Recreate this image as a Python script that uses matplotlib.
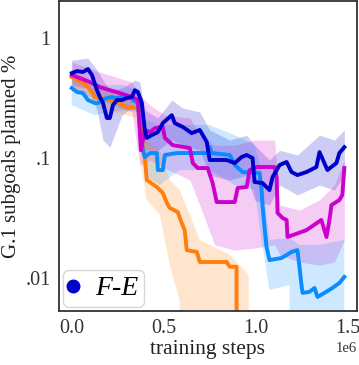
import numpy as np
import matplotlib
matplotlib.use("Agg")
import matplotlib.pyplot as plt
from matplotlib.lines import Line2D
from matplotlib.ticker import FixedLocator, FixedFormatter, NullLocator

# pasos de entrenamiento (en millones) y % de subobjetivos por corrida
fe_x = [0.0, 0.029, 0.061, 0.088, 0.110, 0.137, 0.153, 0.170, 0.191, 0.207,
        0.224, 0.246, 0.273, 0.300, 0.327, 0.343, 0.360, 0.381, 0.397, 0.408,
        0.435, 0.468, 0.495, 0.544, 0.560, 0.604, 0.652, 0.696, 0.734, 0.750,
        0.842, 0.886, 0.924, 0.951, 0.983, 0.994, 1.037, 1.075, 1.092, 1.130,
        1.168, 1.195, 1.227, 1.276, 1.330, 1.347, 1.390, 1.439, 1.455, 1.482]
fe_y = [0.507, 0.527, 0.518, 0.548, 0.489, 0.366, 0.321, 0.286, 0.215, 0.215,
        0.275, 0.303, 0.303, 0.315, 0.321, 0.366, 0.353, 0.286, 0.171, 0.147,
        0.155, 0.164, 0.195, 0.227, 0.195, 0.181, 0.161, 0.171, 0.136, 0.0963,
        0.0963, 0.0909, 0.102, 0.106, 0.1, 0.0632, 0.062, 0.0542, 0.0695, 0.0875,
        0.0927, 0.0765, 0.0722, 0.0765, 0.0842, 0.112, 0.0795, 0.0909, 0.110, 0.123]
fe_bx = [0.0, 0.088, 0.137, 0.170, 0.207, 0.273, 0.343, 0.370, 0.397, 0.468,
         0.544, 0.604, 0.696, 0.750, 0.859, 0.951, 0.994, 1.075, 1.130, 1.227,
         1.347, 1.428, 1.482]
fe_hi = [0.65, 0.676, 0.537, 0.444, 0.366, 0.381, 0.444, 0.427, 0.25, 0.215,
         0.303, 0.26, 0.241, 0.171, 0.141, 0.155, 0.128, 0.0963, 0.116, 0.106,
         0.155, 0.141, 0.171]
fe_lo = [0.403, 0.381, 0.25, 0.141, 0.123, 0.227, 0.275, 0.207, 0.116, 0.116,
         0.141, 0.128, 0.116, 0.0722, 0.0657, 0.0722, 0.0448, 0.0407, 0.0597, 0.0493,
         0.0597, 0.0542, 0.0722]

mag_x = [0.0, 0.045, 0.099, 0.153, 0.207, 0.262, 0.327, 0.360, 0.376, 0.397,
         0.425, 0.452, 0.495, 0.506, 0.549, 0.642, 0.658, 0.685, 0.739, 0.766,
         0.788, 0.886, 0.902, 0.951, 0.967, 1.005, 1.103, 1.114, 1.119, 1.146,
         1.168, 1.173, 1.276, 1.357, 1.385, 1.401, 1.412, 1.455, 1.471, 1.482]
mag_y = [0.489, 0.461, 0.427, 0.388, 0.366, 0.346, 0.321, 0.303, 0.116, 0.171,
         0.164, 0.177, 0.181, 0.147, 0.128, 0.121, 0.0909, 0.0826, 0.0826, 0.062,
         0.0431, 0.0431, 0.0564, 0.0575, 0.0795, 0.0842, 0.0842, 0.0695, 0.035, 0.0318,
         0.0306, 0.0221, 0.0252, 0.0306, 0.0221, 0.0306, 0.0407, 0.0448, 0.0493, 0.0826]
mag_bx = [0.0, 0.153, 0.327, 0.370, 0.425, 0.506, 0.642, 0.696, 0.777, 0.886,
          0.994, 1.103, 1.130, 1.238, 1.347, 1.428, 1.482]
mag_hi = [0.627, 0.518, 0.427, 0.333, 0.275, 0.227, 0.215, 0.155, 0.128, 0.128,
          0.141, 0.141, 0.0407, 0.037, 0.0448, 0.0597, 0.0963]
mag_lo = [0.366, 0.303, 0.241, 0.0875, 0.0963, 0.0826, 0.0657, 0.0407, 0.019, 0.0172,
          0.0179, 0.019, 0.0157, 0.0137, 0.0129, 0.0137, 0.0209]

lb_x = [0.0, 0.029, 0.061, 0.088, 0.126, 0.143, 0.164, 0.191, 0.219, 0.235,
        0.273, 0.327, 0.332, 0.360, 0.370, 0.387, 0.397, 0.425, 0.463, 0.468,
        0.495, 0.506, 0.571, 0.604, 0.739, 0.750, 0.761, 0.859, 0.886, 0.929,
        1.021, 1.032, 1.037, 1.048, 1.059, 1.075, 1.141, 1.195, 1.227, 1.238,
        1.249, 1.255, 1.292, 1.320, 1.336, 1.374, 1.417, 1.455, 1.482]
lb_y = [0.381, 0.353, 0.346, 0.303, 0.286, 0.286, 0.303, 0.315, 0.321, 0.315,
        0.321, 0.315, 0.303, 0.286, 0.181, 0.116, 0.102, 0.110, 0.110, 0.0795,
        0.0795, 0.106, 0.110, 0.110, 0.110, 0.123, 0.110, 0.106, 0.0875, 0.0765,
        0.0751, 0.0542, 0.0407, 0.0267, 0.0183, 0.0142, 0.0148, 0.0166, 0.0172, 0.0125,
        0.00883, 0.00759, 0.00774, 0.00834, 0.00702, 0.00759, 0.00834, 0.00918, 0.0103]
lb_bx = [0.0, 0.126, 0.273, 0.360, 0.397, 0.479, 0.587, 0.750, 0.886, 0.994,
         1.032, 1.075, 1.184, 1.238, 1.347, 1.482]
lb_hi = [0.489, 0.403, 0.403, 0.366, 0.207, 0.188, 0.188, 0.188, 0.155, 0.128,
         0.0795, 0.0209, 0.0217, 0.019, 0.019, 0.0209]
lb_lo = [0.275, 0.227, 0.25, 0.241, 0.0722, 0.0597, 0.0795, 0.0795, 0.0597, 0.0542,
         0.0209, 0.00803, 0.00883, 0.0, 0.0, 0.0]

or_x = [0.0, 0.029, 0.061, 0.088, 0.110, 0.126, 0.153, 0.207, 0.246, 0.278,
        0.300, 0.354, 0.370, 0.381, 0.387, 0.397, 0.408, 0.463, 0.495, 0.517,
        0.533, 0.576, 0.598, 0.614, 0.625, 0.680, 0.696, 0.842, 0.859, 0.896, 0.913]
or_y = [0.470, 0.444, 0.419, 0.388, 0.353, 0.321, 0.315, 0.303, 0.292, 0.275,
        0.265, 0.260, 0.236, 0.171, 0.123, 0.102, 0.0657, 0.0574, 0.0512, 0.0424,
        0.0385, 0.0356, 0.0289, 0.0252, 0.0172, 0.0166, 0.0137, 0.0137, 0.0125, 0.0125, 0.0]
or_bx = [0.0, 0.153, 0.354, 0.381, 0.408, 0.479, 0.533, 0.587, 0.642, 0.696,
         0.859, 0.913, 0.962, 0.967]
or_hi = [0.558, 0.381, 0.333, 0.275, 0.141, 0.116, 0.0657, 0.0542, 0.0336, 0.0209,
         0.0157, 0.0129, 0.0107, 0.0]
or_lo = [0.381, 0.26, 0.215, 0.0795, 0.0448, 0.0336, 0.0129, 0.0066, 0.0, 0.0,
         0.0, 0.0, 0.0, 0.0]

y_ticks = [1, 0.1, 0.01]
y_tick_labels = ["1", ".1", ".01"]


def main():
    plt.rcParams['font.family'] = ['Liberation Serif', 'DejaVu Serif']

    fig = plt.figure(figsize=(3.59, 3.65), dpi=100)
    ax = fig.add_axes([0.164, 0.148, 0.83, 0.849])

    series = [
        (fe_x, fe_y, fe_bx, fe_hi, fe_lo, '#0000cc'),
        (mag_x, mag_y, mag_bx, mag_hi, mag_lo, '#cc00cc'),
        (lb_x, lb_y, lb_bx, lb_hi, lb_lo, '#0a8cff'),
        (or_x, or_y, or_bx, or_hi, or_lo, '#ff7f0e'),
    ]

    # primero las bandas, luego las lineas
    for x, y, bx, hi, lo, col in series:
        ax.fill_between(np.array(bx) * 1e6, lo, hi, color=col, alpha=0.2, lw=0)
    for x, y, bx, hi, lo, col in series[::-1]:
        ax.plot(np.array(x) * 1e6, y, color=col, lw=2.8)

    ax.set_yscale('log')
    ax.set_ylim(0.00537, 2.01)
    ax.set_xlim(-0.07e6, 1.55e6)
    ax.yaxis.set_major_locator(FixedLocator(y_ticks))
    ax.yaxis.set_major_formatter(FixedFormatter(y_tick_labels))
    ax.yaxis.set_minor_locator(NullLocator())
    ax.ticklabel_format(axis='x', style='sci', scilimits=(0, 0))
    ax.xaxis.get_offset_text().set_fontsize(10.5)

    ax.tick_params(length=0, labelsize=14.5, colors='#333333', pad=6)
    for s in ax.spines.values():
        s.set_color('#333333')
        s.set_linewidth(1.3)

    ax.set_xlabel('training steps', fontsize=15.5, color='#222222', labelpad=1)
    ax.set_ylabel('G.1 subgoals planned %', fontsize=15, color='#222222', labelpad=3)

    handle = Line2D([], [], color='#0000cc', marker='o', ls='none', markersize=9)
    ax.legend([handle], ['F-E'], loc='lower left', borderaxespad=0.15,
              prop={'family': 'Liberation Serif', 'style': 'italic', 'size': 20},
              handletextpad=0.6, handlelength=0.35, borderpad=0.2,
              frameon=True, edgecolor='#cccccc', fancybox=True)

    fig.savefig('out.png', dpi=100)


if __name__ == "__main__":
    main()
